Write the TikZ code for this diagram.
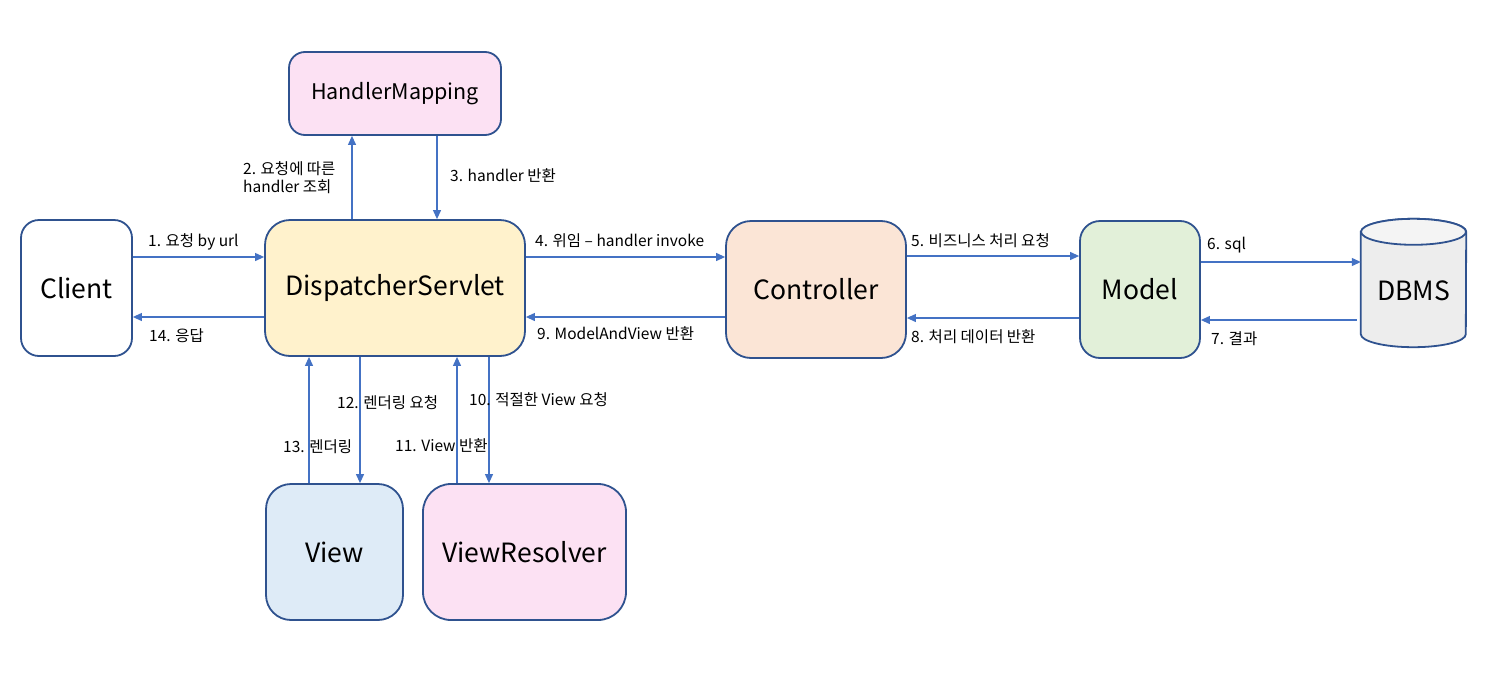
\documentclass[tikz,border=0pt]{standalone}
\usepackage{fontspec}
\setmainfont{Noto Sans CJK KR}
\usetikzlibrary{arrows.meta}
\definecolor{bd}{HTML}{2F528F}
\definecolor{ar}{HTML}{4472C4}
\definecolor{dsfill}{HTML}{FFF2CC}
\definecolor{pinkfill}{HTML}{FCE1F3}
\definecolor{ctrlfill}{HTML}{FBE5D6}
\definecolor{modelfill}{HTML}{E2F0D9}
\definecolor{viewfill}{HTML}{DEEBF7}
\definecolor{dbfill}{HTML}{EDEDED}
\definecolor{dbtop}{HTML}{F4F4F4}
\begin{document}
\begin{tikzpicture}[x=1pt,y=-1pt,
  box/.style={draw=bd, line width=1.8pt, rounded corners=#1, inner sep=0pt},
  box/.default=22pt,
  arr/.style={draw=ar, line width=1.1pt, -{Triangle[length=9pt,width=8pt]}},
  lbl/.style={font=\fontsize{15.5}{18}\selectfont, anchor=west, inner sep=0pt, align=left},
  big/.style={font=\fontsize{26.5}{30}\selectfont},
  mid/.style={font=\fontsize{21.5}{24}\selectfont}]
\useasboundingbox[fill=white] (0,0) rectangle (1493,672);
% boxes
\node[box=18pt, fill=white, minimum width=111pt, minimum height=136pt, big] (Client) at (76.5,288) {Client};
\node[box=25pt, fill=dsfill, minimum width=260pt, minimum height=136pt, big] (DS) at (395,288) {DispatcherServlet};
\node[box=16pt, fill=pinkfill, minimum width=212pt, minimum height=83pt, mid] (HM) at (395,93.5) {HandlerMapping};
\node[box=25pt, fill=ctrlfill, minimum width=180pt, minimum height=137pt, big] (Ctrl) at (816,289.5) {Controller};
\node[box=20pt, fill=modelfill, minimum width=120pt, minimum height=137pt, big] (Model) at (1140,289.5) {Model};
\node[box=25pt, fill=viewfill, minimum width=137pt, minimum height=136pt, big] (View) at (334.5,552) {View};
\node[box=28pt, fill=pinkfill, minimum width=203pt, minimum height=136pt, big] (VR) at (524.5,552) {ViewResolver};
% DBMS cylinder
\node[inner sep=0pt, minimum width=105pt, minimum height=128pt] (DB) at (1413.5,283) {};
\path[draw=bd, line width=1.8pt, fill=dbfill]
  ([yshift=-13pt]DB.north west) -- ([yshift=13pt]DB.south west)
  arc[start angle=180, end angle=360, x radius=52.5pt, y radius=13pt]
  -- ([yshift=-13pt]DB.north east)
  arc[start angle=0, end angle=180, x radius=52.5pt, y radius=13pt] -- cycle;
\draw[draw=bd, line width=1.8pt, fill=dbtop] ([yshift=-13pt]DB.north) ellipse [x radius=52.5pt, y radius=13pt];
\node[big] (DBt) at ([yshift=-8pt]DB.center) {DBMS};
% arrows
\draw[arr] (352,0 |- DS.north) -- (352,0 |- HM.south);
\draw[arr] (437,0 |- HM.south) -- (437,0 |- DS.north);
\draw[arr] (Client.east |- 0,257) -- (DS.west |- 0,257);
\draw[arr] (DS.west |- 0,317) -- (Client.east |- 0,317);
\draw[arr] (DS.east |- 0,257) -- (Ctrl.west |- 0,257);
\draw[arr] (Ctrl.west |- 0,317) -- (DS.east |- 0,317);
\draw[arr] (Ctrl.east |- 0,256) -- (Model.west |- 0,256);
\draw[arr] (Model.west |- 0,318) -- (Ctrl.east |- 0,318);
\draw[arr] (Model.east |- 0,262) -- (DB.west |- 0,262);
\draw[arr] ([xshift=-4pt]DB.west |- 0,320) -- (Model.east |- 0,320);
\draw[arr] (309,0 |- View.north) -- (309,0 |- DS.south);
\draw[arr] (360,0 |- DS.south) -- (360,0 |- View.north);
\draw[arr] (457,0 |- VR.north) -- (457,0 |- DS.south);
\draw[arr] (489,0 |- DS.south) -- (489,0 |- VR.north);
% labels
\node[lbl] (l2) at (243,178) {2. 요청에 따른\\handler 조회};
\node[lbl] (l3) at (450,176) {3. handler 반환};
\node[lbl] (l1) at (148,242) {1. 요청 by url};
\node[lbl] (l14) at (149,336) {14. 응답};
\node[lbl] (l4) at (535,241) {4. 위임 – handler invoke};
\node[lbl] (l9) at (537,334) {9. ModelAndView 반환};
\node[lbl] (l5) at (911,241) {5. 비즈니스 처리 요청};
\node[lbl] (l8) at (911,337) {8. 처리 데이터 반환};
\node[lbl] (l6) at (1207,245) {6. sql};
\node[lbl] (l7) at (1211,339) {7. 결과};
\node[lbl] (l12) at (337,403) {12. 렌더링 요청};
\node[lbl] (l10) at (469,400) {10. 적절한 View 요청};
\node[lbl] (l13) at (283,447) {13. 렌더링};
\node[lbl] (l11) at (395,446) {11. View 반환};
\end{tikzpicture}
\end{document}
